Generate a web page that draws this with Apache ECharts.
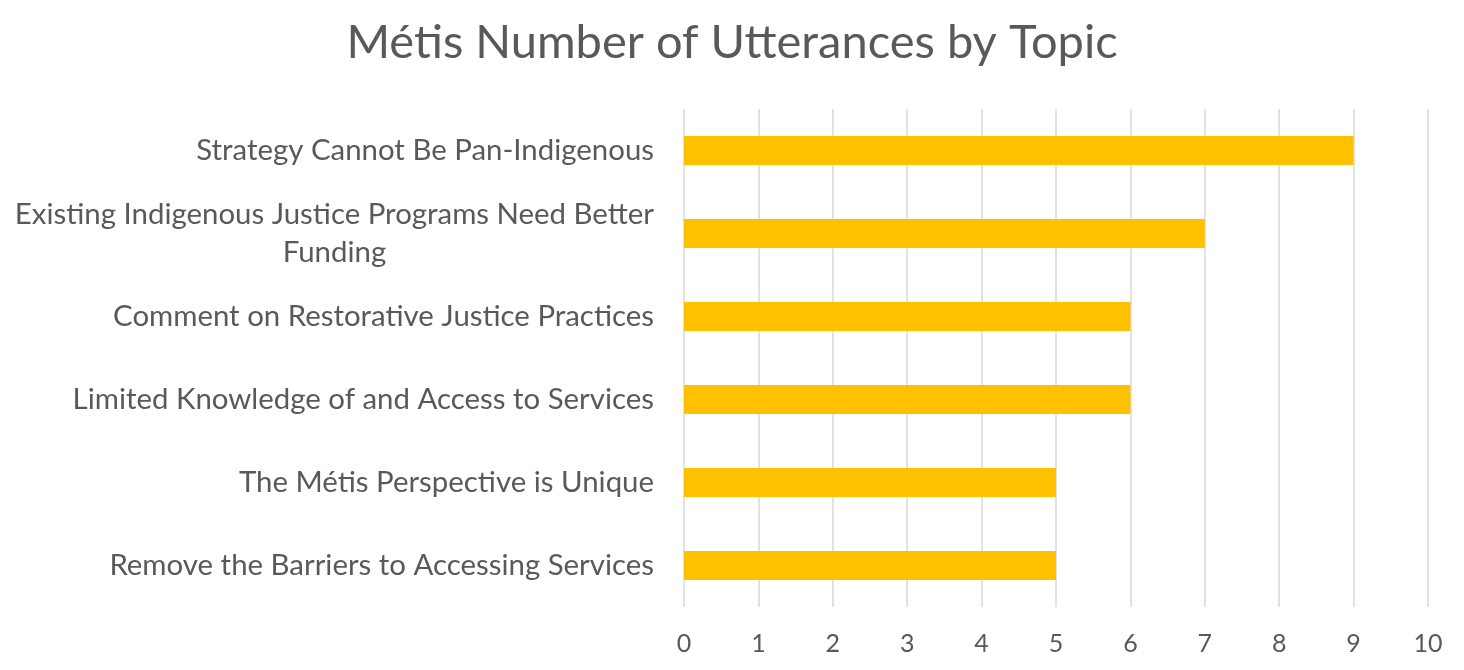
<!DOCTYPE html>
<html><head><meta charset="utf-8">
<script src="https://cdn.jsdelivr.net/npm/echarts@6/dist/echarts.min.js"></script>
<style>html,body{margin:0;padding:0;background:#fff}#c{width:1464px;height:670px}</style>
</head><body><div id="c"></div>
<script>
var title = 'Métis Number of Utterances by Topic';
var categories = [
  'Strategy Cannot Be Pan-Indigenous',
  'Existing Indigenous Justice Programs Need Better\nFunding',
  'Comment on Restorative Justice Practices',
  'Limited Knowledge of and Access to Services',
  'The Métis Perspective is Unique',
  'Remove the Barriers to Accessing Services'
];
var values = [9, 7, 6, 6, 5, 5];
var xTicks = [0, 1, 2, 3, 4, 5, 6, 7, 8, 9, 10];

var FONT = 'Lato';
var labelSize = 29.4;
function measure(t) {
  var cv = document.createElement('canvas').getContext('2d');
  cv.font = labelSize + 'px ' + FONT;
  return cv.measureText(t).width;
}

var chart = echarts.init(document.getElementById('c'));
chart.setOption({
  backgroundColor: '#ffffff',
  textStyle: { fontFamily: FONT },
  title: {
    text: title, left: 'center', top: 14,
    textStyle: { fontFamily: FONT, fontSize: 47, fontWeight: 'normal', color: '#595959' }
  },
  grid: { left: 684, right: 36, top: 109, bottom: 63 },
  xAxis: {
    type: 'value', min: xTicks[0], max: xTicks[xTicks.length - 1], interval: 1,
    axisLine: { show: false }, axisTick: { show: false },
    splitLine: { lineStyle: { color: '#d9d9d9', width: 1.5 } },
    axisLabel: { color: '#595959', fontSize: 25, fontFamily: FONT, margin: 24 }
  },
  yAxis: {
    type: 'category', data: categories, inverse: true,
    axisLine: { show: false }, axisTick: { show: false },
    axisLabel: {
      color: '#595959', fontSize: labelSize, fontFamily: FONT, margin: 30, lineHeight: 38,
      formatter: function (v) {
        if (v.indexOf('\n') >= 0) {
          return v.split('\n').map(function (p) { return '{w|' + p + '}'; }).join('\n');
        }
        return v;
      },
      rich: {
        w: { width: Math.max.apply(null, categories[1].split('\n').map(measure)), align: 'center',
             color: '#595959', fontSize: labelSize, fontFamily: FONT, lineHeight: 38 }
      }
    }
  },
  series: [{
    type: 'bar', data: values, barCategoryGap: '65%',
    itemStyle: { color: '#ffc000' }, silent: true, animation: false
  }],
  animation: false
});
</script></body></html>
